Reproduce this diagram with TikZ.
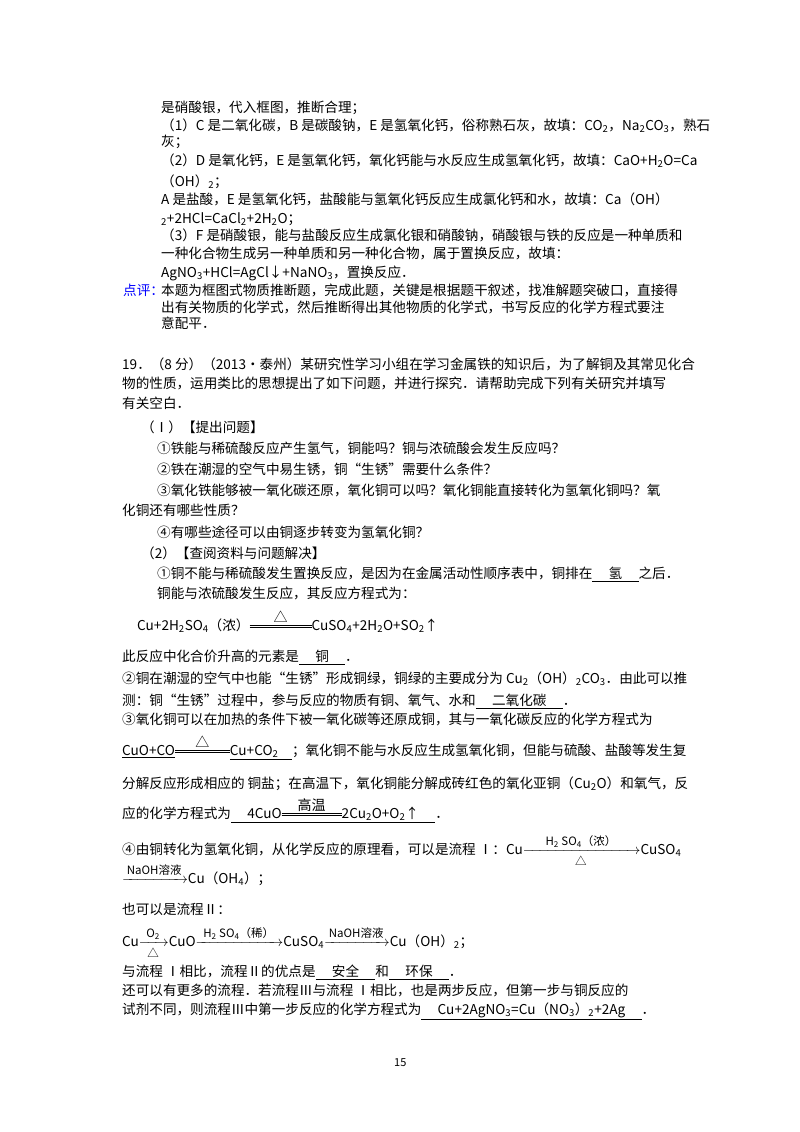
\documentclass[tikz,border=0pt]{standalone}
\usepackage{fontspec}
\usepackage{amsmath}
\setmainfont{Noto Sans CJK SC}
\newcommand\sbs[1]{\textsubscript{#1}}
\newcommand\ul[1]{\underline{\hspace{1.2em}#1\hspace{1.2em}}}
\newcommand\dbl[2]{$\mathrel{\mathop{\vcenter{\hrule width #1 height .5pt\kern1.5pt\hrule width #1 height .5pt}}\limits^{\mbox{\fontsize{14}{15}\selectfont #2}}}$}
\newcommand\rarr[3]{$\xrightarrow[\mbox{\fontsize{11.5}{12}\selectfont #3}]{\makebox[#1]{\fontsize{11.5}{12}\selectfont #2}}$}
\tikzset{ln/.style={anchor=base west,inner sep=0pt,font=\fontsize{13.6}{16}\selectfont}}
\begin{document}
\begin{tikzpicture}[x=1pt,y=-1pt]
\useasboundingbox (0,0) rectangle (800,1132);
\fill[white] (0,0) rectangle (800,1132);
\node[ln] (a1) at (161,112) {是硝酸银，代入框图，推断合理；};
\node[ln] (a2) at (161,130) {（1）C 是二氧化碳，B 是碳酸钠，E 是氢氧化钙，俗称熟石灰，故填：CO\sbs2，Na\sbs2CO\sbs3，熟石};
\node[ln] (a3) at (161,146) {灰；};
\node[ln] (a4) at (161,165) {（2）D 是氧化钙，E 是氢氧化钙，氧化钙能与水反应生成氢氧化钙，故填：CaO+H\sbs2O=Ca};
\node[ln] (a5) at (161,186) {（OH）\sbs2；};
\node[ln] (a6) at (161,204) {A 是盐酸，E 是氢氧化钙，盐酸能与氢氧化钙反应生成氯化钙和水，故填：Ca（OH）};
\node[ln] (a7) at (161,223) {\sbs2+2HCl=CaCl\sbs2+2H\sbs2O；};
\node[ln] (a8) at (161,240) {（3）F 是硝酸银，能与盐酸反应生成氯化银和硝酸钠，硝酸银与铁的反应是一种单质和};
\node[ln] (a9) at (161,258) {一种化合物生成另一种单质和另一种化合物，属于置换反应，故填：};
\node[ln] (a10) at (161,277) {AgNO\sbs3+HCl=AgCl↓+NaNO\sbs3，置换反应．};
\node[ln,text=blue] (dp) at (123,295) {点评：};
\node[ln] (b1) at (161,295) {本题为框图式物质推断题，完成此题，关键是根据题干叙述，找准解题突破口，直接得};
\node[ln] (b2) at (161,312) {出有关物质的化学式，然后推断得出其他物质的化学式，书写反应的化学方程式要注};
\node[ln] (b3) at (161,328) {意配平．};
\node[ln] (q1) at (122,369) {19．（8 分）（2013•泰州）某研究性学习小组在学习金属铁的知识后，为了解铜及其常见化合};
\node[ln] (q2) at (122,388) {物的性质，运用类比的思想提出了如下问题，并进行探究．请帮助完成下列有关研究并填写};
\node[ln] (q3) at (122,408) {有关空白．};
\node[ln] (q4) at (141,432) {（Ⅰ）【提出问题】};
\node[ln] (q5) at (157,453) {①铁能与稀硫酸反应产生氢气，铜能吗？铜与浓硫酸会发生反应吗？};
\node[ln] (q6) at (157,474) {②铁在潮湿的空气中易生锈，铜“生锈”需要什么条件？};
\node[ln] (q7) at (157,495) {③氧化铁能够被一氧化碳还原，氧化铜可以吗？氧化铜能直接转化为氢氧化铜吗？氧};
\node[ln] (q8) at (122,515) {化铜还有哪些性质？};
\node[ln] (q9) at (157,537) {④有哪些途径可以由铜逐步转变为氢氧化铜？};
\node[ln] (q10) at (141,558) {（2）【查阅资料与问题解决】};
\node[ln] (q11) at (157,578) {①铜不能与稀硫酸发生置换反应，是因为在金属活动性顺序表中，铜排在\ul{氢}之后．};
\node[ln] (q12) at (157,598) {铜能与浓硫酸发生反应，其反应方程式为：};
\node[ln] (e1) at (137,630) {Cu+2H\sbs2SO\sbs4（浓）\dbl{62pt}{△}CuSO\sbs4+2H\sbs2O+SO\sbs2↑};
\node[ln] (q13) at (122,661) {此反应中化合价升高的元素是\ul{铜}．};
\node[ln] (q14) at (122,683) {②铜在潮湿的空气中也能“生锈”形成铜绿，铜绿的主要成分为 Cu\sbs2（OH）\sbs2CO\sbs3．由此可以推};
\node[ln] (q15) at (122,705) {测：铜“生锈”过程中，参与反应的物质有铜、氧气、水和\ul{二氧化碳}．};
\node[ln] (q16) at (122,724) {③氧化铜可以在加热的条件下被一氧化碳等还原成铜，其与一氧化碳反应的化学方程式为};
\node[ln] (e2) at (122,755) {\underline{CuO+CO}\dbl{55pt}{△}\underline{Cu+CO\sbs2\hspace{1em}}；氧化铜不能与水反应生成氢氧化铜，但能与硫酸、盐酸等发生复};
\node[ln] (q17) at (122,788) {分解反应形成相应的 铜盐；在高温下，氧化铜能分解成砖红色的氧化亚铜（Cu\sbs2O）和氧气，反};
\node[ln] (e3) at (122,818) {应的化学方程式为\underline{\hspace{1.2em}4CuO\dbl{60pt}{高温}2Cu\sbs2O+O\sbs2↑\hspace{1.2em}}．};
\node[ln] (q18) at (122,854) {④由铜转化为氢氧化铜，从化学反应的原理看，可以是流程 Ⅰ：Cu\rarr{110pt}{H\sbs2 SO\sbs4（浓）}{△}CuSO\sbs4};
\node[ln] (q19) at (122,883) {\rarr{58pt}{NaOH溶液}{}Cu（OH\sbs4）；};
\node[ln] (q20) at (122,914) {也可以是流程Ⅱ：};
\node[ln] (e4) at (122,946) {Cu\rarr{22pt}{O\sbs2}{△}CuO\rarr{80pt}{H\sbs2 SO\sbs4（稀）}{}CuSO\sbs4\rarr{58pt}{NaOH溶液}{}Cu（OH）\sbs2；};
\node[ln] (q21) at (122,976) {与流程 Ⅰ相比，流程Ⅱ的优点是\ul{安全}和\ul{环保}．};
\node[ln] (q22) at (122,995) {还可以有更多的流程．若流程Ⅲ与流程 Ⅰ相比，也是两步反应，但第一步与铜反应的};
\node[ln] (q23) at (122,1014) {试剂不同，则流程Ⅲ中第一步反应的化学方程式为\ul{Cu+2AgNO\sbs3=Cu（NO\sbs3）\sbs2+2Ag}．};
\node[ln,font=\fontsize{11}{12}\selectfont] (pn) at (394,1066) {15};
\end{tikzpicture}
\end{document}
